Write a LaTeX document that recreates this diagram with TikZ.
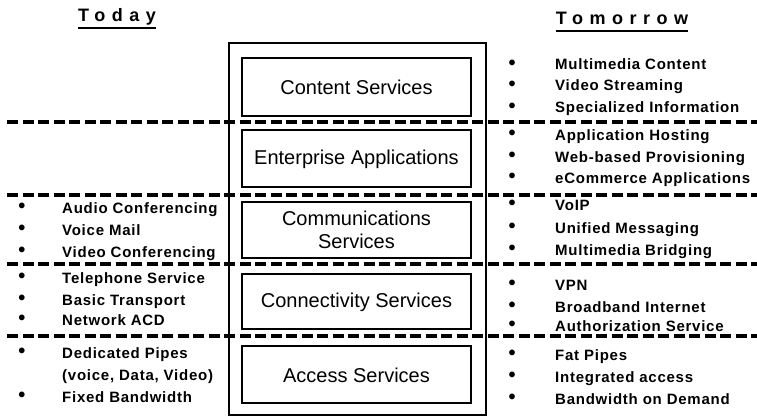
\documentclass[tikz,border=0pt]{standalone}
\usepackage{fontspec}
\setmainfont{Liberation Sans}
\newfontfamily\listfont[LetterSpace=5]{Liberation Sans Bold}
\newfontfamily\ttlfont[LetterSpace=36]{Liberation Sans Bold}
\begin{document}
\begin{tikzpicture}[x=1pt,y=-1pt,
  layerbox/.style={draw, line width=1.6pt},
  boxlabel/.style={font=\fontsize{20}{23}\selectfont, align=center, inner sep=0pt},
  lst/.style={font=\listfont\fontsize{15}{17}\selectfont, anchor=base west, inner sep=0pt},
  bul/.style={font=\fontsize{20}{22}\selectfont\bfseries, anchor=center, inner sep=0pt},
  sep/.style={line width=3.5pt, dash pattern=on 11pt off 4.5pt},
  ttl/.style={font=\ttlfont\fontsize{18}{20}\selectfont, anchor=base, inner sep=0pt}]
\useasboundingbox (0,0) rectangle (757,417);
% titles
\node[ttl] (today) at (117,22) {Today};
\node[ttl] (tomorrow) at (622,25) {Tomorrow};
\draw[line width=2pt] ([yshift=-6.5pt]today.base west) -- ([yshift=-6.5pt]today.base east);
\draw[line width=2pt] ([yshift=-6.5pt]tomorrow.base west) -- ([yshift=-6.5pt]tomorrow.base east);
% outer frame
\draw[line width=1.1pt] (229,43) rectangle (486,415);
% layer boxes
\draw[layerbox] (242,58) rectangle (471,116);
\draw[layerbox] (242,130) rectangle (471,187);
\draw[layerbox] (242,202) rectangle (471,258);
\draw[layerbox] (242,274) rectangle (471,329);
\draw[layerbox] (242,346) rectangle (471,403);
\node[boxlabel] (content) at (356.5,87) {Content Services};
\node[boxlabel] (enterprise) at (356.5,159) {Enterprise Applications};
\node[boxlabel] (comms) at (356.5,230) {Communications\\Services};
\node[boxlabel] (conn) at (356.5,302) {Connectivity Services};
\node[boxlabel] (access) at (356.5,375) {Access Services};
% separators
\draw[sep] (7,122) -- (757,122);
\draw[sep] (7,195) -- (757,195);
\draw[sep] (7,264) -- (757,264);
\draw[sep] (7,336) -- (757,336);
% left lists
\foreach \y/\t [count=\i] in {213/Audio Conferencing,235/Voice Mail,257/Video Conferencing,
  283/Telephone Service,305/Basic Transport,325/Network ACD,358/Dedicated Pipes,402/Fixed Bandwidth}{
  \node[bul] (lb\i) at (22,\y-5) {•};
  \node[lst] (lt\i) at (62,\y) {\t};
}
\node[lst] (lt9) at (62,380) {(voice, Data, Video)};
% right lists
\foreach \y/\t [count=\i] in {70/Multimedia Content,91/Video Streaming,113/Specialized Information,
  140/Application Hosting,162/Web-based Provisioning,183/eCommerce Applications,
  210/VoIP,233/Unified Messaging,255/Multimedia Bridging,
  290/VPN,312/Broadband Internet,331/Authorization Service,
  360/Fat Pipes,382/Integrated access,404/Bandwidth on Demand}{
  \node[bul] (rb\i) at (512,\y-5) {•};
  \node[lst] (rt\i) at (555,\y) {\t};
}
\end{tikzpicture}
\end{document}
